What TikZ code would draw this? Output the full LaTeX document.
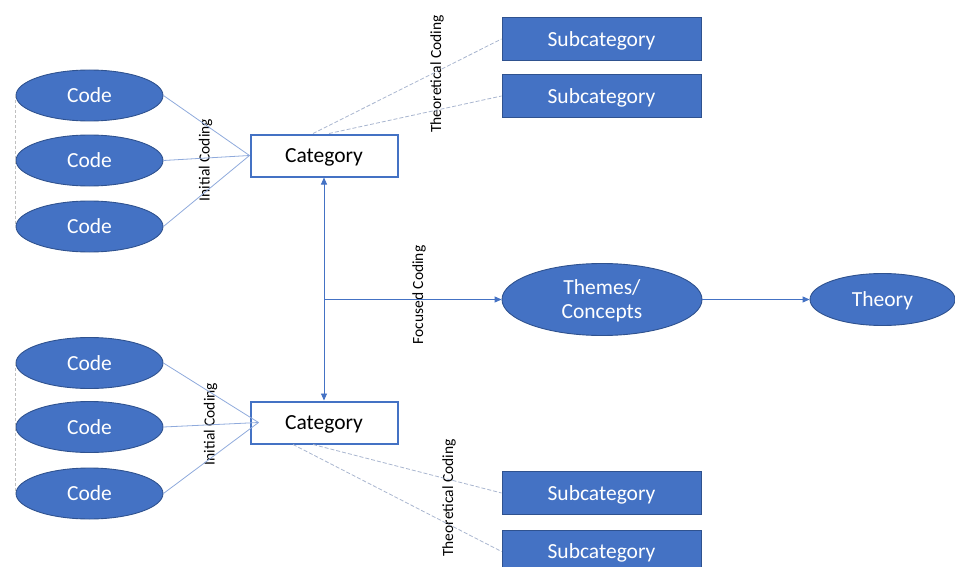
\documentclass[tikz,border=0pt]{standalone}
\usepackage{fontspec}
\setmainfont{Carlito}
\usetikzlibrary{shapes.geometric,arrows.meta}
\definecolor{officeblue}{HTML}{4472C4}
\definecolor{darkblue}{HTML}{2F528F}
\definecolor{linkblue}{HTML}{8FAADC}
\definecolor{dashgray}{HTML}{A9B6CF}
\tikzset{
  codeshape/.style={ellipse, fill=officeblue, draw=darkblue, line width=0.9pt,
    minimum width=147pt, minimum height=51pt, inner sep=0pt, text=white,
    text depth=0pt, font=\fontsize{21.5}{25}\selectfont},
  catbox/.style={rectangle, fill=white, draw=officeblue, line width=2pt,
    minimum width=147pt, minimum height=42pt, inner sep=0pt, text depth=0pt,
    font=\fontsize{21.5}{25}\selectfont},
  subbox/.style={rectangle, fill=officeblue, draw=darkblue, line width=0.9pt,
    minimum width=199pt, minimum height=43pt, inner sep=0pt, text=white,
    text depth=0pt, font=\fontsize{21.5}{25}\selectfont},
  sidelabel/.style={rotate=90, inner sep=0pt, font=\fontsize{15.5}{18}\selectfont},
  codelink/.style={draw=linkblue, line width=0.8pt},
  theolink/.style={draw=dashgray, line width=0.8pt, dash pattern=on 4pt off 2pt},
  grouplink/.style={draw=black!25, line width=0.7pt, dash pattern=on 3pt off 2pt},
  flow/.style={draw=officeblue, line width=0.9pt,
    -{Triangle[length=7pt,width=6pt]}},
}
\begin{document}
\begin{tikzpicture}[x=1pt,y=-1pt]
\useasboundingbox (0,0) rectangle (955,567);

% upper branch
\node[codeshape] (c1) at (89.5,95.5) {Code};
\node[codeshape] (c2) at (89.5,160.5) {Code};
\node[codeshape] (c3) at (89.5,226.5) {Code};
\node[catbox] (cat1) at (324,155.5) {Category};
\node[subbox] (s1) at (601.5,39) {Subcategory};
\node[subbox] (s2) at (601.5,96) {Subcategory};

% lower branch
\node[codeshape] (c4) at (89.5,363) {Code};
\node[codeshape] (c5) at (89.5,427) {Code};
\node[codeshape] (c6) at (89.5,493.5) {Code};
\node[catbox] (cat2) at (324,422.5) {Category};
\node[subbox] (s3) at (601.5,493) {Subcategory};
\node[subbox] (s4) at (601.5,551.5) {Subcategory};

% outcome
\node[codeshape, minimum width=200pt, minimum height=72pt, align=center,
  font=\fontsize{21.5}{24}\selectfont] (themes) at (602,299.5) {Themes/\\Concepts};
\node[codeshape, minimum width=145pt, minimum height=52pt] (theory) at (882.5,299.5) {Theory};

% stage labels
\node[sidelabel] (l1) at (205.5,160) {Initial Coding};
\node[sidelabel] (l2) at (437,74) {Theoretical Coding};
\node[sidelabel] (l3) at (419,295) {Focused Coding};
\node[sidelabel] (l4) at (210.5,424) {Initial Coding};
\node[sidelabel] (l5) at (449,498) {Theoretical Coding};

% grouping of codes
\draw[grouplink] (c1.west) -- (c3.west);
\draw[grouplink] (c4.west) -- (c6.west);

% initial coding links
\coordinate (in1) at (cat1.west);
\coordinate (in2) at ([xshift=9pt]cat2.west);
\foreach \c in {c1,c2,c3} \draw[codelink] (\c.east) -- (in1);
\foreach \c in {c4,c5,c6} \draw[codelink] (\c.east) -- (in2);

% theoretical coding links
\draw[theolink] ([xshift=-11pt]cat1.north) -- (s1.west);
\draw[theolink] ([xshift=5pt]cat1.north) -- (s2.west);
\draw[theolink] ([xshift=-11pt]cat2.south) -- (s3.west);
\draw[theolink] ([xshift=-31pt]cat2.south) -- (s4.west);

% focused coding
\coordinate (fork) at (cat1.south |- themes.west);
\draw[flow, {Triangle[length=7pt,width=6pt]}-{Triangle[length=7pt,width=6pt]}] (cat1.south) -- (cat2.north);
\draw[flow] (fork) -- (themes.west);
\draw[flow] (themes.east) -- (theory.west);
\end{tikzpicture}
\end{document}
